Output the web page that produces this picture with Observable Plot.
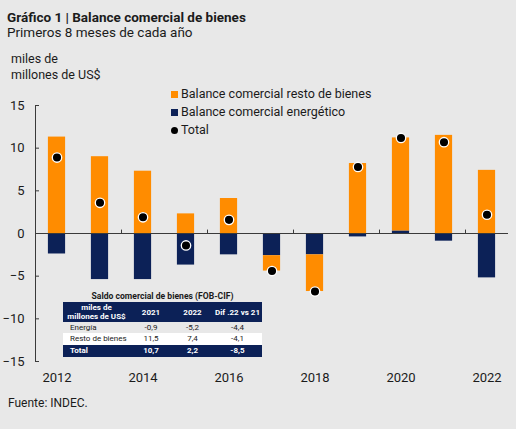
<!DOCTYPE html>
<html>
<head>
<meta charset="utf-8">
<script src="https://cdn.jsdelivr.net/npm/d3@7"></script>
<script src="https://cdn.jsdelivr.net/npm/@observablehq/plot@0.6"></script>
<style>
  html, body { margin: 0; padding: 0; background: #e8e8e8; }
  #wrap { position: relative; width: 516px; height: 429px; overflow: hidden;
          background: #e8e8e8; font-family: Roboto, "Noto Sans", sans-serif; color: #1b1b1b; }
  #chart { position: absolute; left: 0; top: 0; }
  .abs { position: absolute; white-space: nowrap; line-height: 1; }
  .title { left: 7px; top: 10.6px; font-size: 13.5px; font-weight: 700; }
  .subtitle { left: 7px; top: 26.2px; font-size: 13.5px; }
  .units { left: 11px; top: 51px; font-size: 12.5px; line-height: 16px; }
  .source { left: 8px; top: 397px; font-size: 12px; }
  .legend { left: 171px; top: 85px; font-size: 12.5px; }
  .legend .row { display: flex; align-items: center; height: 18px; }
  .legend .sw { width: 7px; height: 7px; margin-right: 3px; }
  .legend .dot { width: 7px; height: 7px; border-radius: 50%; background: #000; margin-right: 3px; }
  .tbl { left: 63px; top: 290px; width: 199px; font-size: 8px; }
  .tbl .cap { text-align: center; font-weight: 700; font-size: 8.6px; height: 12px; line-height: 12px; }
  .tbl table { border-collapse: collapse; width: 199px; table-layout: fixed; }
  .tbl td { padding: 0; text-align: center; }
  .tbl td:first-child { text-align: left; padding-left: 7px; }
  .tbl tr.head td { background: #0c2157; color: #fff; font-weight: 700; height: 20px; line-height: 9px; }
  .tbl tr.head td:first-child { text-align: center; padding-left: 0; }
  .tbl tr.r1 td { height: 11px; }
  .tbl tr.r2 td { height: 12px; background: #fff; }
  .tbl tr.tot td { height: 12px; background: #0c2157; color: #fff; font-weight: 700; }
</style>
</head>
<body>
<div id="wrap">
  <div id="chart"></div>
  <div class="abs title">Gráfico 1 | Balance comercial de bienes</div>
  <div class="abs subtitle">Primeros 8 meses de cada año</div>
  <div class="abs units">miles de<br>millones de US$</div>
  <div class="abs legend" id="legend"></div>
  <div class="abs tbl" id="tbl"></div>
  <div class="abs source">Fuente: INDEC.</div>
</div>
<script>
// Saldo comercial, primeros 8 meses (miles de millones de US$)
const years = [2012, 2013, 2014, 2015, 2016, 2017, 2018, 2019, 2020, 2021, 2022];
const energetico = [-2.4, -5.4, -5.4, -3.7, -2.5, -2.6, -2.5, -0.4, 0.3, -0.9, -5.2];
const restoBienes = [11.3, 9.0, 7.3, 2.3, 4.1, -1.8, -4.3, 8.2, 10.9, 11.5, 7.4];
const total = [8.9, 3.6, 1.9, -1.4, 1.6, -4.4, -6.8, 7.8, 11.2, 10.7, 2.2];

const seriesNames = ["Balance comercial resto de bienes", "Balance comercial energético", "Total"];
const seriesColors = ["#ff8c00", "#0c2157", "#000000"];

const yTicks = [-15, -10, -5, 0, 5, 10, 15];
const xTickLabels = [2012, 2014, 2016, 2018, 2020, 2022];

// Recuadro: saldo comercial de bienes (FOB-CIF)
const tablaTitulo = "Saldo comercial de bienes (FOB-CIF)";
const tablaEncabezado = ["miles de<br>millones de US$", "2021", "2022", "Dif .22 vs 21"];
const tablaFilas = ["Energía", "Resto de bienes", "Total"];
const tabla2021 = ["-0,9", "11,5", "10,7"];
const tabla2022 = ["-5,2", "7,4", "2,2"];
const tablaDif = ["-4,4", "-4,1", "-8,5"];

// Energy first so it sits next to zero; the rest of goods stacks beyond it.
const rows = [
  ...years.map((year, i) => ({year, serie: seriesNames[1], value: energetico[i]})),
  ...years.map((year, i) => ({year, serie: seriesNames[0], value: restoBienes[i]}))
];
const totals = years.map((year, i) => ({year, value: total[i]}));

const xMin = years[0] - 0.5, xMax = years[years.length - 1] + 0.5;
const halfBar = 0.2;
// small separators on the zero line between year pairs
const separators = years.filter(y => y % 2 === 1).map(y => y + 0.5);

const stacked = Plot.stackY({x: "year", y: "value"});

const chart = Plot.plot({
  width: 516,
  height: 429,
  marginTop: 105,
  marginBottom: 68,
  marginLeft: 35,
  marginRight: 8,
  style: {background: "transparent", fontFamily: "Roboto, sans-serif", fontSize: "13px", color: "#1b1b1b"},
  x: {type: "linear", domain: [xMin, xMax]},
  y: {domain: [yTicks[0], yTicks[yTicks.length - 1]]},
  color: {domain: seriesNames.slice(0, 2), range: seriesColors.slice(0, 2)},
  marks: [
    Plot.rect(rows, {
      ...stacked,
      x1: d => d.year - halfBar,
      x2: d => d.year + halfBar,
      fill: "serie"
    }),
    Plot.ruleY([0], {stroke: "#3a3a3a", strokeWidth: 1}),
    Plot.ruleX(separators, {y1: 0, y2: 0.4, stroke: "#3a3a3a"}),
    Plot.ruleX([xMin], {y1: yTicks[0], y2: yTicks[yTicks.length - 1], stroke: "#3a3a3a"}),
    Plot.dot(totals, {x: "year", y: "value", r: 4.7, fill: seriesColors[2], stroke: "#fff", strokeWidth: 1.3}),
    Plot.axisY({ticks: yTicks, tickSize: -4, tickPadding: 15, stroke: "#3a3a3a", label: null, fontSize: 13}),
    Plot.axisX({ticks: xTickLabels, tickFormat: d => String(d), tickSize: 0, tickPadding: 11, label: null, fontSize: 13})
  ]
});
document.getElementById("chart").appendChild(chart);

// legend
const legend = document.getElementById("legend");
seriesNames.forEach((name, i) => {
  const row = document.createElement("div");
  row.className = "row";
  const mark = document.createElement("span");
  if (i < 2) { mark.className = "sw"; mark.style.background = seriesColors[i]; }
  else mark.className = "dot";
  row.appendChild(mark);
  const t = document.createElement("span");
  t.textContent = name;
  row.appendChild(t);
  legend.appendChild(row);
});

// summary table
const rowClass = ["r1", "r2", "tot"];
let html = `<div class="cap">${tablaTitulo}</div><table><colgroup>
<col style="width:67px"><col style="width:42px"><col style="width:41px"><col style="width:49px"></colgroup>`;
html += `<tr class="head">${tablaEncabezado.map(h => `<td>${h}</td>`).join("")}</tr>`;
tablaFilas.forEach((f, i) => {
  html += `<tr class="${rowClass[i]}"><td>${f}</td><td>${tabla2021[i]}</td><td>${tabla2022[i]}</td><td>${tablaDif[i]}</td></tr>`;
});
html += `</table>`;
document.getElementById("tbl").innerHTML = html;
</script>
</body>
</html>
